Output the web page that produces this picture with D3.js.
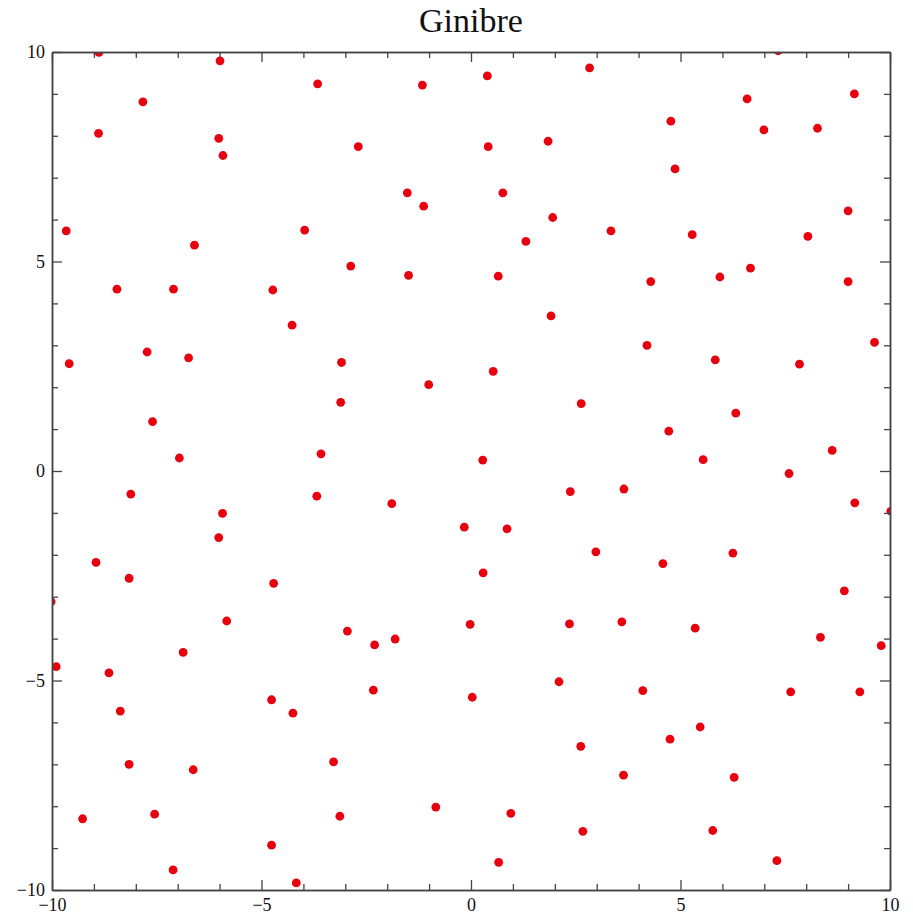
<!DOCTYPE html>
<html>
<head>
<meta charset="utf-8">
<script src="https://cdn.jsdelivr.net/npm/d3@7"></script>
<style>
  body { margin: 0; background: #fff; }
  text { font-family: "Liberation Serif", "Times New Roman", serif; }
</style>
</head>
<body>
<div id="chart"></div>
<script>
// eigenvalue positions
const xs = [-8.88, -5.99, -3.66, -7.83, -8.89, -6.02, -5.92, -9.66, -3.97, -6.60,
  -8.45, -7.10, -4.73, -4.27, -7.73, -6.74, -9.59, -7.60, -6.96, -3.58,
  -1.16, 0.39, 2.83, -2.69, 0.41, 1.84, -1.52, -1.13, 0.76, 1.95,
  1.31, -2.87, -1.49, 0.65, 1.91, -3.09, 0.53, -1.01, -3.11, 2.63,
  0.28, 7.33, 6.59, 9.15, 4.77, 6.99, 8.27, 4.87, 9.00, 3.34,
  5.28, 8.04, 4.29, 5.94, 6.67, 9.00, 4.20, 5.83, 7.84, 9.63,
  6.32, 4.72, 5.54, 8.62, 7.59, -8.12, -5.93, -3.68, -6.02, -8.95,
  -8.16, -4.71, -10.02, -5.83, -6.87, -9.90, -8.64, -8.37, -4.76, -4.25,
  -8.16, -6.63, -9.27, -7.55, -4.76, -7.11, -4.17, -1.89, 2.37, -0.16,
  0.86, 2.98, 0.29, -2.95, -2.30, -1.81, -0.02, 2.35, -2.33, 0.03,
  2.10, 2.62, -3.28, -3.13, -0.84, 0.95, 2.67, 0.66, 3.65, 9.16,
  10.02, 4.58, 6.25, 8.91, 3.60, 5.35, 8.34, 9.79, 4.10, 7.63,
  9.28, 5.47, 4.75, 3.64, 6.28, 5.77, 7.30];
const ys = [9.99, 9.79, 9.24, 8.81, 8.06, 7.94, 7.53, 5.73, 5.75, 5.39,
  4.34, 4.34, 4.32, 3.48, 2.84, 2.70, 2.56, 1.18, 0.31, 0.41,
  9.21, 9.43, 9.62, 7.74, 7.74, 7.87, 6.64, 6.32, 6.64, 6.05,
  5.48, 4.89, 4.67, 4.65, 3.70, 2.59, 2.38, 2.06, 1.64, 1.61,
  0.26, 10.03, 8.88, 9.00, 8.35, 8.14, 8.18, 7.21, 6.21, 5.73,
  5.64, 5.60, 4.52, 4.63, 4.84, 4.52, 3.00, 2.65, 2.55, 3.07,
  1.38, 0.95, 0.27, 0.49, -0.06, -0.55, -1.01, -0.60, -1.59, -2.18,
  -2.56, -2.68, -3.12, -3.58, -4.33, -4.67, -4.82, -5.73, -5.46, -5.78,
  -7.00, -7.13, -8.30, -8.19, -8.93, -9.52, -9.83, -0.78, -0.49, -1.34,
  -1.38, -1.93, -2.43, -3.82, -4.15, -4.01, -3.66, -3.65, -5.23, -5.40,
  -5.03, -6.57, -6.94, -8.24, -8.02, -8.17, -8.60, -9.34, -0.43, -0.76,
  -0.96, -2.21, -1.96, -2.86, -3.60, -3.75, -3.97, -4.17, -5.24, -5.27,
  -5.27, -6.11, -6.40, -7.26, -7.31, -8.58, -9.30];
const majorTicks = [-10, -5, 0, 5, 10];
const minorTicks = d3.range(-10, 11, 1).filter(d => d % 5 !== 0);
const title = "Ginibre";

const width = 913, height = 917;
const margin = {top: 52, right: 23, bottom: 27, left: 52};

const svg = d3.select("#chart")
  .append("svg")
  .attr("width", width)
  .attr("height", height);

const x = d3.scaleLinear().domain([-10, 10]).range([margin.left, width - margin.right]);
const y = d3.scaleLinear().domain([-10, 10]).range([height - margin.bottom, margin.top]);

svg.append("clipPath")
  .attr("id", "plot-clip")
  .append("rect")
  .attr("x", x(-10))
  .attr("y", y(10))
  .attr("width", x(10) - x(-10))
  .attr("height", y(-10) - y(10));

svg.append("text")
  .attr("x", (x(-10) + x(10)) / 2)
  .attr("y", 32)
  .attr("text-anchor", "middle")
  .style("font-size", "34px")
  .attr("fill", "#111")
  .text(title);

// points
svg.append("g")
  .attr("clip-path", "url(#plot-clip)")
  .selectAll("circle")
  .data(d3.range(xs.length))
  .join("circle")
  .attr("cx", i => x(xs[i]))
  .attr("cy", i => y(ys[i]))
  .attr("r", 4.4)
  .attr("fill", "#e8000e");

// axes: ticks point inward on all four sides
const fmt = d3.format("d");
function styleAxis(g) {
  g.select(".domain").attr("stroke", "#444").attr("stroke-width", 1.5);
  g.selectAll(".tick line").attr("stroke", "#444").attr("stroke-width", 1.3);
  g.selectAll("text").style("font-size", "18px").attr("fill", "#111");
}

const axes = [
  {axis: d3.axisBottom(x), tr: `translate(0,${y(-10)})`, pad: 8},
  {axis: d3.axisTop(x), tr: `translate(0,${y(10)})`, pad: null},
  {axis: d3.axisLeft(y), tr: `translate(${x(-10)},0)`, pad: 7},
  {axis: d3.axisRight(y), tr: `translate(${x(10)},0)`, pad: null}
];

axes.forEach(a => {
  svg.append("g")
    .attr("transform", a.tr)
    .call(a.axis.tickValues(minorTicks).tickSize(-6).tickSizeOuter(0).tickFormat(""))
    .call(styleAxis);
  svg.append("g")
    .attr("transform", a.tr)
    .call(a.axis.tickValues(majorTicks).tickSize(-10).tickSizeOuter(0)
      .tickPadding(a.pad || 0)
      .tickFormat(a.pad ? fmt : ""))
    .call(styleAxis);
});
</script>
</body>
</html>
